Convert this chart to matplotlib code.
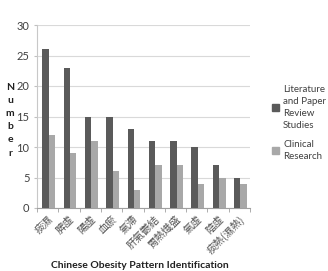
import numpy as np
import matplotlib
matplotlib.use('Agg')
from matplotlib import pyplot as plt
from matplotlib.patches import Patch

plt.rcParams['font.family'] = ['Lato', 'Noto Sans CJK TC']

categorias = ['痰濕', '脾虛', '陽虛', '血瘀', '氣滯', '肝氣鬱結', '胃熱熾盛', '氣虛', '陰虛', '痰熱(濕熱)']
literatura = [26, 23, 15, 15, 13, 11, 11, 10, 7, 5]
clinica = [12, 9, 11, 6, 3, 7, 7, 4, 5, 4]
ticks_y = [0, 5, 10, 15, 20, 25, 30]

c_oscuro = '#5a5a5a'
c_claro = '#a8a8a8'

fig = plt.figure(figsize=(3.28, 2.71), dpi=100)
ax = fig.add_axes([37/328, 1 - 208/271, 213/328, 183/271])

x = np.arange(len(categorias))
w = 0.3
ax.bar(x + 0.05 - w/2, literatura, w, color=c_oscuro, zorder=3)
ax.bar(x + 0.05 + w/2, clinica, w, color=c_claro, zorder=3)

ax.set_xlim(-0.5, len(categorias) - 0.5)
ax.set_ylim(0, 30)
ax.set_yticks(ticks_y)
ax.tick_params(axis='y', labelsize=8, colors='#404040', length=2, color='#c0c0c0')
ax.yaxis.grid(True, color='#d9d9d9', lw=0.8, zorder=0)

ax.set_xticks(np.arange(len(categorias) + 1) - 0.5, minor=True)
ax.set_xticks(x)
ax.set_xticklabels(categorias, rotation=45, ha='right', rotation_mode='anchor',
                   family=['Noto Sans CJK TC', 'DejaVu Sans'], fontsize=7.5, color='#505050')
ax.tick_params(axis='x', which='major', length=0, pad=4)
ax.tick_params(axis='x', which='minor', length=3, color='#a0a0a0')

for s in ['top', 'right']:
    ax.spines[s].set_visible(False)
ax.spines['left'].set_color('#c8c8c8')
ax.spines['bottom'].set_color('#a0a0a0')

fig.text(10/328, 1 - 120/271, 'N\nu\nm\nb\ne\nr', ha='center', va='center',
         fontsize=7.5, fontweight='bold', linespacing=1.6, color='#202020')
fig.text(140/328, 1 - 265/271, 'Chinese Obesity Pattern Identification',
         ha='center', va='center', fontsize=7.5, fontweight='bold', color='#202020')

handles = [Patch(color=c_oscuro), Patch(color=c_claro)]
fig.legend(handles, ['Literature\nand Paper\nReview\nStudies', 'Clinical\nResearch'],
           loc='upper left', bbox_to_anchor=(270/328, 1 - 83/271), frameon=False,
           handlelength=0.7, handleheight=0.7, handletextpad=0.45,
           labelspacing=1.0, borderaxespad=0, borderpad=0.2, labelcolor='#404040',
           prop={'size': 7, 'family': 'Lato'})
for t in fig.legends[0].get_texts():
    t.set_linespacing(1.45)

fig.savefig('out.png', dpi=100)
